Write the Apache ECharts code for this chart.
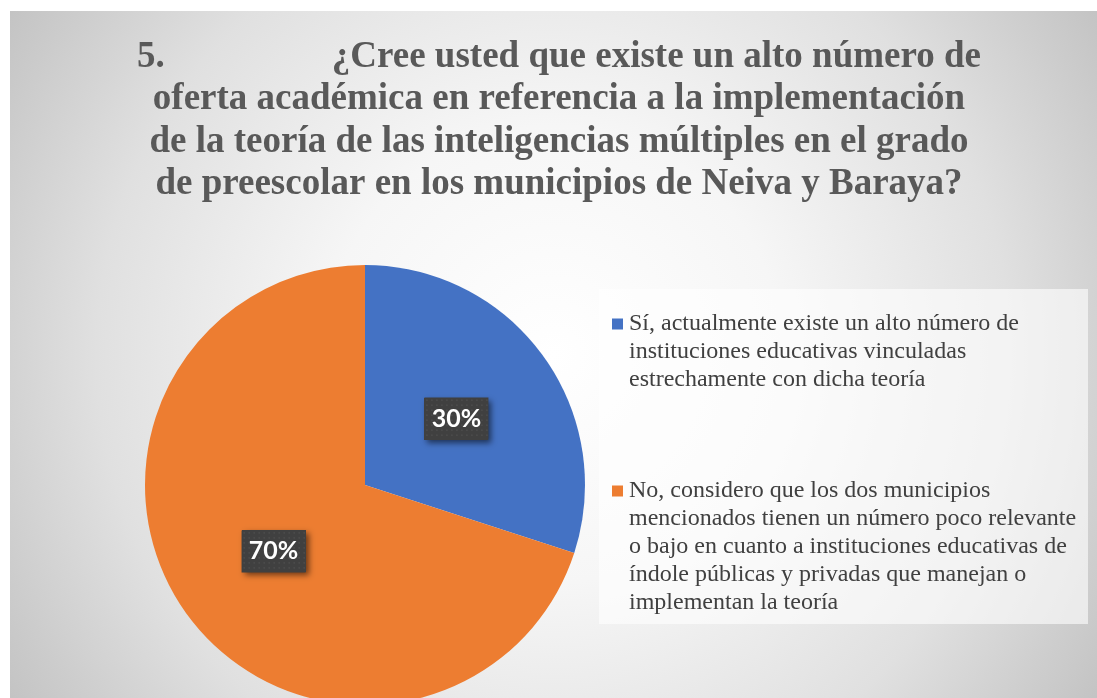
<!DOCTYPE html>
<html>
<head>
<meta charset="utf-8">
<title>Oferta académica - inteligencias múltiples</title>
<script src="https://cdn.jsdelivr.net/npm/echarts@6/dist/echarts.min.js"></script>
<style>
  html, body { margin: 0; padding: 0; background: #fff; }
  #chart { width: 1097px; height: 698px; }
</style>
</head>
<body>
<div id="chart"></div>
<script>
// datos de la gráfica
const legendLines = [
  ['Sí, actualmente existe un alto número de',
   'instituciones educativas vinculadas',
   'estrechamente con dicha teoría'],
  ['No, considero que los dos municipios',
   'mencionados tienen un número poco relevante',
   'o bajo en cuanto a instituciones educativas de',
   'índole públicas y privadas que manejan o',
   'implementan la teoría']
]
const categories = legendLines.map(l => l.join(' '))
const values = [30, 70]
const colors = ['#4472C4', '#ED7D31']

const titleText = '5.{gap|}¿Cree usted que existe un alto número de\n' +
  'oferta académica en referencia a la implementación\n' +
  'de la teoría de las inteligencias múltiples en el grado\n' +
  'de preescolar en los municipios de Neiva y Baraya?'

// fondo punteado de las etiquetas
const makeDots = () => {
  const c = document.createElement('canvas')
  c.width = 64
  c.height = 42
  const ctx = c.getContext('2d')
  ctx.fillStyle = '#404040'
  ctx.fillRect(0, 0, 64, 42)
  ctx.fillStyle = '#5e5e5e'
  for (let x = 2; x < 64; x += 5) {
    for (let y = 2; y < 42; y += 5) {
      ctx.fillRect(x, y, 1, 1)
    }
  }
  return c
}
const dots = makeDots()

const chart = echarts.init(document.getElementById('chart'))

const legendRich = {
  sp: { width: 6, lineHeight: 28 },
  ind: { width: 17, lineHeight: 28 },
  t: { fontFamily: 'Liberation Serif', fontSize: 24, color: '#404040', lineHeight: 28 }
}
colors.forEach((c, i) => {
  legendRich['m' + i] = { width: 11, height: 11, backgroundColor: c, lineHeight: 28 }
})

chart.setOption({
  animation: false,
  graphic: [
    {
      type: 'rect',
      z: -10,
      silent: true,
      shape: { x: 10, y: 11, width: 1087, height: 687 },
      style: {
        fill: {
          type: 'radial', x: 0.5, y: 0.5, r: 0.95,
          colorStops: [
            { offset: 0, color: '#ffffff' },
            { offset: 0.35, color: '#f6f6f6' },
            { offset: 0.7, color: '#e0e0e0' },
            { offset: 1, color: '#c2c2c2' }
          ]
        }
      }
    },
    {
      type: 'rect',
      z: -5,
      silent: true,
      shape: { x: 599, y: 289, width: 489, height: 335 },
      style: { fill: 'rgba(255,255,255,0.6)' }
    }
  ],
  title: {
    text: titleText,
    left: 559,
    top: 36,
    padding: 0,
    textAlign: 'center',
    textStyle: {
      fontFamily: 'Liberation Serif',
      fontWeight: 'bold',
      fontSize: 37,
      lineHeight: 42.5,
      color: '#595959',
      rich: {
        gap: { width: 167 }
      }
    }
  },
  legend: {
    orient: 'vertical',
    left: 607,
    top: 312,
    padding: 0,
    itemGap: 87,
    itemWidth: 0,
    itemHeight: 0,
    selectedMode: false,
    data: categories,
    formatter: name => {
      const i = categories.indexOf(name)
      return legendLines[i]
        .map((ln, k) => (k === 0 ? `{m${i}|}{sp|}` : '{ind|}') + `{t|${ln}}`)
        .join('\n')
    },
    textStyle: { rich: legendRich }
  },
  series: [
    {
      type: 'pie',
      center: [365, 485],
      radius: 220,
      startAngle: 90,
      clockwise: true,
      percentPrecision: 0,
      data: categories.map((name, i) => ({
        name,
        value: values[i],
        itemStyle: { color: colors[i] }
      })),
      label: {
        show: true,
        position: 'inside',
        formatter: '{v|{d}%}',
        backgroundColor: '#404040',
        shadowColor: 'rgba(0,0,0,0.55)',
        shadowBlur: 6,
        shadowOffsetX: 3,
        shadowOffsetY: 3,
        rich: {
          v: {
            color: '#ffffff',
            fontFamily: 'Lato',
            fontWeight: 'bold',
            fontSize: 25,
            width: 64,
            height: 42,
            lineHeight: 42,
            align: 'center',
            backgroundColor: { image: dots }
          }
        }
      },
      labelLine: { show: false },
      emphasis: { disabled: true }
    }
  ]
})

window.addEventListener('resize', () => chart.resize())
</script>
</body>
</html>
